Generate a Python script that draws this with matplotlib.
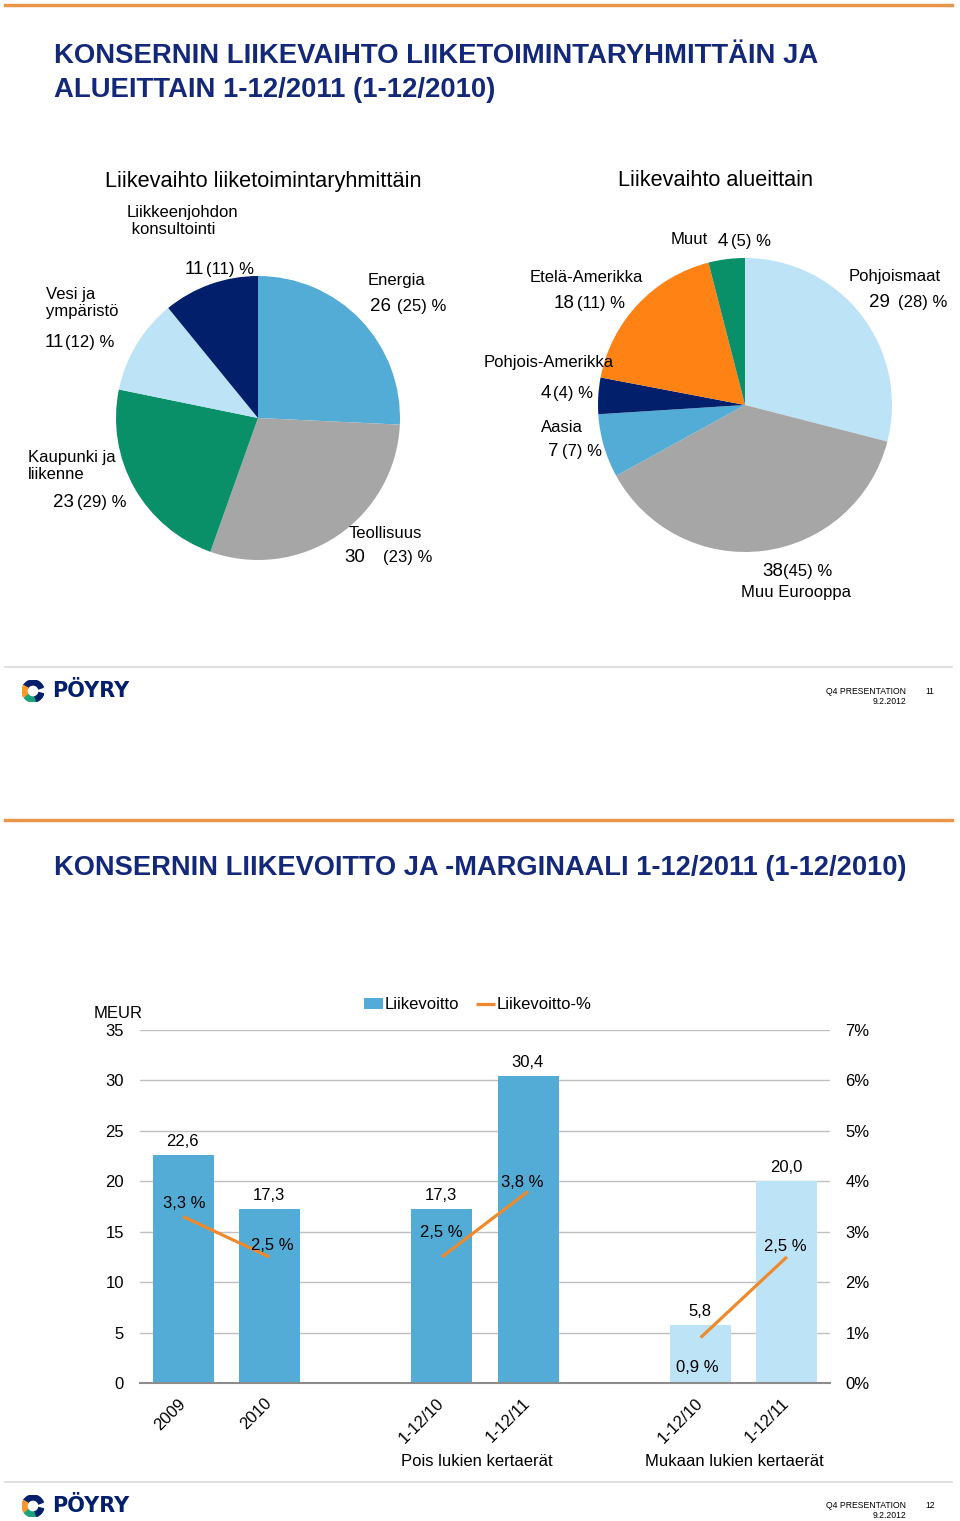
import numpy as np
import matplotlib
matplotlib.use("Agg")
import matplotlib.pyplot as plt
from matplotlib.lines import Line2D
from matplotlib.patches import Wedge

W, H = 960, 1521

# ---- data: liikevaihto liiketoimintaryhmittain (2011, 2010 in parentheses)
group_names = ["Energia", "Teollisuus", "Kaupunki ja\nliikenne", "Vesi ja\nympäristö",
               "Liikkeenjohdon\n konsultointi"]
group_2011 = [26, 30, 23, 11, 11]
group_2010 = [25, 23, 29, 12, 11]

# ---- data: liikevaihto alueittain
area_names = ["Pohjoismaat", "Muu Eurooppa", "Aasia", "Pohjois-Amerikka", "Etelä-Amerikka", "Muut"]
area_2011 = [29, 38, 7, 4, 18, 4]
area_2010 = [28, 45, 7, 4, 11, 5]

# ---- data: liikevoitto ja -marginaali (blank slots separate the groups)
categories = ["2009", "2010", "", "1-12/10", "1-12/11", "", "1-12/10", "1-12/11"]
ebit = [22.6, 17.3, np.nan, 17.3, 30.4, np.nan, 5.8, 20.0]
ebit_pct = [3.3, 2.5, np.nan, 2.5, 3.8, np.nan, 0.9, 2.5]
group_titles = ["Pois lukien kertaerät", "Mukaan lukien kertaerät"]

# colours
NAVY = "#14287a"
MID_BLUE = "#52acd6"
LIGHT_BLUE = "#bde3f6"
GREY = "#a6a6a6"
GREEN = "#0a9068"
DARK = "#021f6b"
ORANGE = "#ff8214"
LINE_ORANGE = "#ee8a2c"

group_colors = [MID_BLUE, GREY, GREEN, LIGHT_BLUE, DARK]
area_colors = [LIGHT_BLUE, GREY, MID_BLUE, DARK, ORANGE, GREEN]
bar_colors = [MID_BLUE, MID_BLUE, "none", MID_BLUE, MID_BLUE, "none", LIGHT_BLUE, LIGHT_BLUE]

BODY = ["Liberation Sans", "DejaVu Sans"]
plt.rcParams["font.family"] = BODY
FS = 12  # chart text size


def px(x, y):
    return x / W, 1 - y / H


def fmt(v):
    return f"{v:.1f}".replace(".", ",")


fig = plt.figure(figsize=(W / 100, H / 100), dpi=100)


def slide_frame(top_y, footer_y, page):
    fig.add_artist(Line2D([5 / W, 952 / W], [1 - top_y / H] * 2, color="#e8974a", lw=2.5))
    fig.add_artist(Line2D([5 / W, 952 / W], [1 - footer_y / H] * 2, color="#d9d9d9", lw=1.2))
    ly = footer_y + 24
    ax = fig.add_axes([22 / W, 1 - (ly + 11) / H, 22 / W, 22 / H])
    ax.set_xlim(-1, 1)
    ax.set_ylim(-1, 1)
    ax.axis("off")
    ax.add_patch(Wedge((0, 0), 1, 20, 150, width=0.45, color=DARK))
    ax.add_patch(Wedge((0, 0), 1, 150, 215, width=0.45, color="#f39a2b"))
    ax.add_patch(Wedge((0, 0), 1, 220, 290, width=0.45, color="#1aa37a"))
    ax.add_patch(Wedge((0, 0), 1, 290, 345, width=0.45, color=DARK))
    fig.text(*px(52, ly), "PÖYRY", fontsize=15, fontweight="bold", color=DARK,
             va="center", family="DejaVu Sans")
    fig.text(*px(906, ly), "Q4 PRESENTATION", fontsize=6.2, ha="right", va="center")
    fig.text(*px(906, ly + 10), "9.2.2012", fontsize=6.2, ha="right", va="center")
    fig.text(*px(925, ly), page, fontsize=6.2, ha="left", va="center")


# ================= slide 11 =================
slide_frame(5, 667, "11")
fig.text(*px(54, 73), "KONSERNIN LIIKEVAIHTO LIIKETOIMINTARYHMITTÄIN JA\nALUEITTAIN 1-12/2011 (1-12/2010)",
         fontsize=19.8, fontweight="bold", color=NAVY, va="center", ha="left", linespacing=1.36)
fig.text(*px(263, 181), "Liikevaihto liiketoimintaryhmittäin", fontsize=15.7, ha="center", va="center")
fig.text(*px(715, 180), "Liikevaihto alueittain", fontsize=15.6, ha="center", va="center")


def pie_axes(cx, cy, r):
    ax = fig.add_axes([(cx - r) / W, 1 - (cy + r) / H, 2 * r / W, 2 * r / H])
    return ax


ax1 = pie_axes(258, 418, 142)
ax1.pie(group_2011, colors=group_colors, startangle=90, counterclock=False,
        wedgeprops=dict(linewidth=0))
ax1.set_xlim(-1, 1)
ax1.set_ylim(-1, 1)
ax1.axis("off")

ax2p = pie_axes(745, 405, 147)
ax2p.pie(area_2011, colors=area_colors, startangle=90, counterclock=False,
         wedgeprops=dict(linewidth=0))
ax2p.set_xlim(-1, 1)
ax2p.set_ylim(-1, 1)
ax2p.axis("off")

# label layout: name (x, y centre), number x, "(..) %" x, number baseline y
group_label_pos = [
    ((368, 281), 370, 397, 311),
    ((349, 534), 344, 383, 562),
    ((28, 466), 53, 77, 507),
    ((46, 303), 45, 65, 347),
    ((127, 221), 185, 206, 274),
]
area_label_pos = [
    ((849, 277), 869, 898, 307),
    ((741, 592), 762, 783, 576),
    ((541, 428), 548, 562, 456),
    ((484, 362), 541, 553, 398),
    ((530, 277), 554, 577, 308),
    ((671, 240), 718, 731, 246),
]


def pie_labels(names, now, before, layout):
    for name, a, b, (nxy, x1, x2, yb) in zip(names, now, before, layout):
        fig.text(*px(*nxy), name, fontsize=12, ha="left", va="center", linespacing=1.2)
        fig.text(*px(x1, yb), str(a), fontsize=13.5, ha="left", va="baseline")
        fig.text(*px(x2, yb), f"({b}) %", fontsize=12, ha="left", va="baseline")


pie_labels(group_names, group_2011, group_2010, group_label_pos)
pie_labels(area_names, area_2011, area_2010, area_label_pos)

# ================= slide 12 =================
slide_frame(820, 1482, "12")
fig.text(*px(54, 868), "KONSERNIN LIIKEVOITTO JA -MARGINAALI 1-12/2011 (1-12/2010)",
         fontsize=19.6, fontweight="bold", color=NAVY, va="center", ha="left")

axb = fig.add_axes([140 / W, 1 - 1383 / H, 690 / W, 353 / H])
x = np.arange(len(categories))
bars = axb.bar(x, ebit, width=0.71, color=bar_colors, zorder=2, label="Liikevoitto")
axb.set_xlim(-0.5, len(categories) - 0.5)
axb.set_ylim(0, 35)
axb.set_yticks(range(0, 36, 5))
axb.grid(axis="y", color="#c0c0c0", lw=1, zorder=0)
for s in ["top", "left", "right"]:
    axb.spines[s].set_visible(False)
axb.spines["bottom"].set_color("#8c8c8c")
axb.spines["bottom"].set_linewidth(1.5)
axb.spines["bottom"].set_zorder(3)
axb.tick_params(axis="y", length=0, pad=11.5, labelsize=FS)

shown = [i for i, c in enumerate(categories) if c]
axb.set_xticks(shown)
axb.set_xticklabels([categories[i] for i in shown], rotation=45, ha="right", va="center",
                    rotation_mode="anchor", fontsize=FS)
axb.tick_params(axis="x", length=0, pad=13)

for xi, v in zip(x, ebit):
    if not np.isnan(v):
        axb.annotate(fmt(v), (xi, v), xytext=(-1, 6), textcoords="offset pixels",
                     ha="center", va="bottom", fontsize=FS)

axr = axb.twinx()
axr.set_ylim(0, 7)
axr.set_yticks(range(0, 8))
axr.set_yticklabels([f"{i}%" for i in range(0, 8)])
axr.tick_params(axis="y", length=0, pad=11, labelsize=FS)
for s in axr.spines.values():
    s.set_visible(False)
line, = axr.plot(x, ebit_pct, color=LINE_ORANGE, lw=2.3, solid_capstyle="butt",
                 label="Liikevoitto-%")

pct_offsets = [(1, 13), (3, 11), (-1, 24), (-6, 9), (-3, -30), (-2, 10)]
for xi, v, off in zip([i for i in x if not np.isnan(ebit_pct[i])],
                      [v for v in ebit_pct if not np.isnan(v)], pct_offsets):
    axr.annotate(f"{fmt(v)} %", (xi, v), xytext=off, textcoords="offset pixels",
                 ha="center", va="center", fontsize=FS)

leg = axr.legend([bars, line], ["Liikevoitto", "Liikevoitto-%"], loc="lower center",
                 bbox_to_anchor=(0.49, 1.0), ncol=2, frameon=False, handlelength=1.1,
                 handletextpad=0.15, columnspacing=1.0, borderaxespad=0.65,
                 prop=dict(size=FS))

fig.text(*px(118, 1013), "MEUR", fontsize=FS, ha="center", va="center")
fig.text(*px(477, 1461), group_titles[0], fontsize=FS, ha="center", va="center")
fig.text(*px(734, 1461), group_titles[1], fontsize=FS, ha="center", va="center")

fig.savefig("out.png", dpi=100)
